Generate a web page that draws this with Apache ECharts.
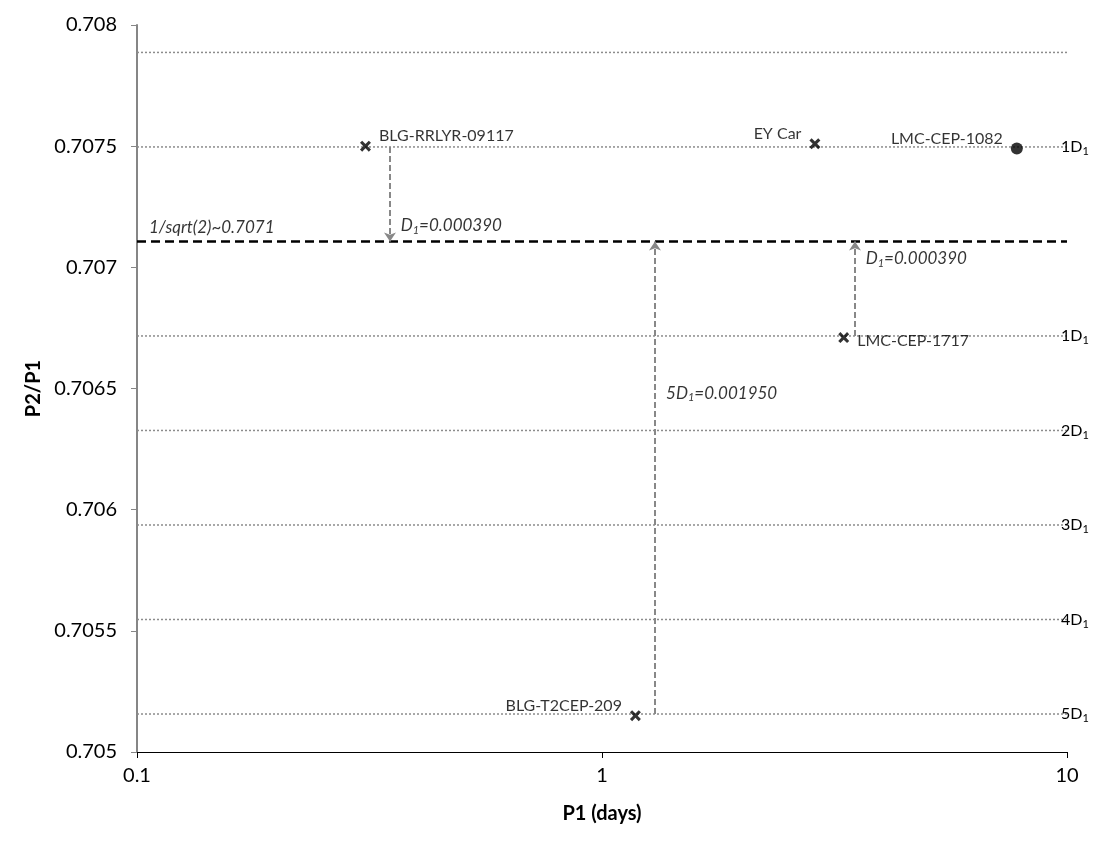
<!DOCTYPE html>
<html>
<head>
<meta charset="utf-8">
<script src="https://cdn.jsdelivr.net/npm/echarts@6/dist/echarts.min.js"></script>
<style>
  html, body { margin: 0; padding: 0; background: #fff; }
  #chart { width: 1100px; height: 850px; }
</style>
</head>
<body>
<div id="chart"></div>
<script>
// star data
const starNames = ['BLG-RRLYR-09117', 'EY Car', 'LMC-CEP-1082', 'LMC-CEP-1717', 'BLG-T2CEP-209'];
const starP1 = [0.31, 2.87, 7.8, 3.31, 1.18];
const starRatio = [0.70750, 0.70751, 0.70749, 0.70671, 0.70515];
const starMark = ['cross', 'cross', 'dot', 'cross', 'cross'];
const starLabelPos = ['right', 'left', 'left', 'right', 'left'];

// reference levels: 1/sqrt(2) + k * D1
const base = 1 / Math.sqrt(2);
const D1 = 0.00039;
const levelK = [2, 1, -1, -2, -3, -4, -5];
const levelText = ['', '1', '1', '2', '3', '4', '5'];

// arrows (x position, from level k, to base line)
const arrowX = [0.35, 3.5, 1.3];
const arrowFromK = [1, -1, -5];

const xMin = 0.1, xMax = 10;
const yTicks = ['0.705', '0.7055', '0.706', '0.7065', '0.707', '0.7075', '0.708'];

const font = 'Lato, "Open Sans", sans-serif';
const crossPath = 'path://M2,0L5,3L8,0L10,2L7,5L10,8L8,10L5,7L2,10L0,8L3,5L0,2Z';

const subRich = {
  n: { fontSize: 16, fontFamily: font, color: '#000', lineHeight: 20 },
  s: { fontSize: 11, fontFamily: font, color: '#000', lineHeight: 20, padding: [9, 0, 0, 0] },
  ni: { fontSize: 17, fontFamily: font, color: '#000', fontStyle: 'italic', lineHeight: 20 },
  si: { fontSize: 11, fontFamily: font, color: '#000', fontStyle: 'italic', lineHeight: 20, padding: [9, 0, 0, 0] }
};

const chart = echarts.init(document.getElementById('chart'));

// dotted level lines across the plot
const levelSeries = levelK.map((k, i) => ({
  type: 'line',
  silent: true,
  symbol: 'none',
  data: [[xMin, base + k * D1], [xMax, base + k * D1]],
  lineStyle: { color: '#8c8c8c', type: [2, 2], width: 1.5 },
  endLabel: levelText[i]
    ? { show: true, distance: -6, formatter: '{n|' + levelText[i] + 'D}{s|1}', rich: subRich }
    : { show: false },
  z: 1
}));

const baseSeries = {
  type: 'line',
  silent: true,
  symbol: 'none',
  data: [[xMin, base], [xMax, base]],
  lineStyle: { color: '#000', type: [9, 5], width: 2.5 },
  z: 2
};

const stars = starNames.map((n, i) => ({
  name: n,
  value: [starP1[i], starRatio[i]],
  symbol: starMark[i] === 'dot' ? 'circle' : crossPath,
  symbolSize: starMark[i] === 'dot' ? 12 : 11,
  label: {
    show: true,
    position: starLabelPos[i],
    distance: 8,
    offset: i === 3 ? [0, 3] : [0, -10],
    formatter: '{b}',
    fontSize: 16,
    fontFamily: font,
    color: '#000'
  }
}));

const arrows = arrowX.map((x, i) => ({
  coords: [[x, base + arrowFromK[i] * D1], [x, base]]
}));

// annotation texts anchored at data positions
const notes = [
  { value: [xMin, base], text: '{ni|1/sqrt(2)~0.7071}', off: [0, -14], dist: 12 },
  { value: [0.36, base], text: '{ni|D}{si|1}{ni|=0.000390}', off: [0, -16], dist: 5 },
  { value: [3.6, base], text: '{ni|D}{si|1}{ni|=0.000390}', off: [0, 17], dist: 5 },
  { value: [1.34, 0.70648], text: '{ni|5D}{si|1}{ni|=0.001950}', off: [0, 0], dist: 5 }
];

chart.setOption({
  animation: false,
  grid: { left: 137, right: 33, top: 25, bottom: 98, containLabel: false },
  xAxis: {
    type: 'log',
    logBase: 10,
    min: xMin,
    max: xMax,
    name: 'P1 (days)',
    nameLocation: 'middle',
    nameGap: 52,
    nameTextStyle: { fontSize: 20, fontWeight: 'bold', fontFamily: font, color: '#000' },
    axisLine: { lineStyle: { color: '#000', width: 1 } },
    axisTick: { show: true, length: 6, lineStyle: { color: '#000' } },
    axisLabel: { fontSize: 20, fontFamily: font, color: '#000', margin: 14, formatter: v => String(+v.toPrecision(3)) },
    splitLine: { show: false },
    minorTick: { show: false }
  },
  yAxis: {
    type: 'value',
    min: 0.705,
    max: 0.708,
    interval: 0.0005,
    name: 'P2/P1',
    nameLocation: 'middle',
    nameGap: 86,
    nameRotate: 90,
    nameTextStyle: { fontSize: 20, fontWeight: 'bold', fontFamily: font, color: '#000' },
    axisLine: { show: true, lineStyle: { color: '#868686', width: 2 } },
    axisTick: { show: true, length: 6, lineStyle: { color: '#868686' } },
    axisLabel: {
      fontSize: 20, fontFamily: font, color: '#000', margin: 20,
      formatter: v => yTicks.find(t => Math.abs(+t - v) < 1e-7) || ''
    },
    splitLine: { show: false }
  },
  series: [
    ...levelSeries,
    baseSeries,
    {
      type: 'lines',
      coordinateSystem: 'cartesian2d',
      silent: true,
      symbol: ['none', 'arrow'],
      symbolSize: 9,
      lineStyle: { color: '#888', type: [6, 3], width: 2, opacity: 1 },
      data: arrows,
      z: 3
    },
    {
      type: 'scatter',
      name: 'notes',
      silent: true,
      symbolSize: 0,
      data: notes.map(n => ({
        value: n.value,
        label: {
          show: true,
          position: 'right',
          distance: n.dist,
          offset: n.off,
          formatter: n.text,
          rich: subRich
        }
      })),
      z: 4
    },
    {
      type: 'scatter',
      name: 'stars',
      itemStyle: { color: '#000' },
      data: stars,
      z: 5
    }
  ]
});
</script>
</body>
</html>
